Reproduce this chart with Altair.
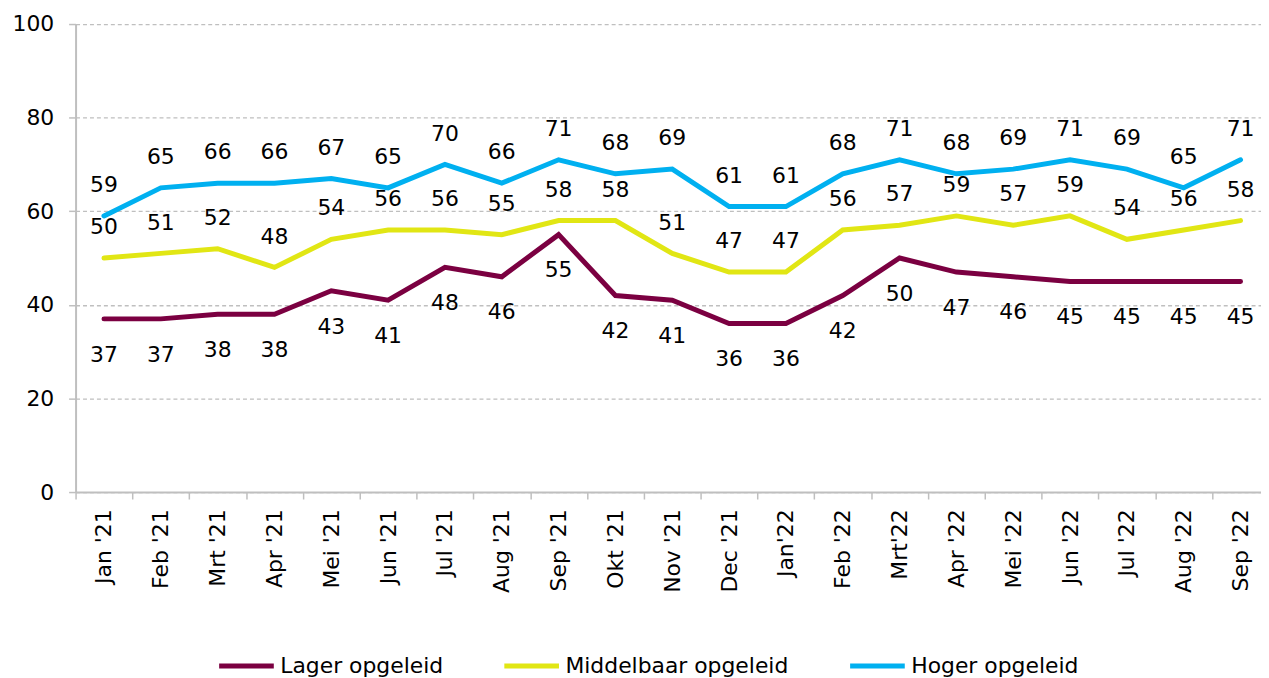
import altair as alt
import pandas as pd

months = ["Jan '21", "Feb '21", "Mrt '21", "Apr '21", "Mei '21", "Jun '21", "Jul '21",
          "Aug '21", "Sep '21", "Okt '21", "Nov '21", "Dec '21", "Jan'22", "Feb '22",
          "Mrt'22", "Apr '22", "Mei '22", "Jun '22", "Jul '22", "Aug '22", "Sep '22"]
lager = [37, 37, 38, 38, 43, 41, 48, 46, 55, 42, 41, 36, 36, 42, 50, 47, 46, 45, 45, 45, 45]
middelbaar = [50, 51, 52, 48, 54, 56, 56, 55, 58, 58, 51, 47, 47, 56, 57, 59, 57, 59, 54, 56, 58]
hoger = [59, 65, 66, 66, 67, 65, 70, 66, 71, 68, 69, 61, 61, 68, 71, 68, 69, 71, 69, 65, 71]

series_names = ["Lager opgeleid", "Middelbaar opgeleid", "Hoger opgeleid"]
series_colors = ["#7B0041", "#E1E614", "#00B0F0"]

rows = []
for name, vals in zip(series_names, [lager, middelbaar, hoger]):
    for m, v in zip(months, vals):
        rows.append({"month": m, "series": name, "value": v})
df = pd.DataFrame(rows)

FONT = "DejaVu Sans"
GRAY = "#BFBFBF"

x_enc = alt.X(
    "month:N", sort=months, bandPosition=0.5,
    scale=alt.Scale(type="band", range=[0, 1201], paddingInner=0, paddingOuter=0),
    axis=alt.Axis(title=None, labelAngle=-90, labelAlign="right", labelBaseline="middle",
                  tickBand="extent", tickSize=7, tickColor=GRAY, tickWidth=1.5,
                  domainColor=GRAY, domainWidth=2, labelFontSize=22, labelColor="black",
                  labelFont=FONT, labelPadding=10, grid=False),
)
y_enc = alt.Y(
    "value:Q", scale=alt.Scale(domain=[0, 100], nice=False),
    axis=alt.Axis(title=None, values=[0, 20, 40, 60, 80, 100], tickSize=7, tickColor=GRAY,
                  tickWidth=1.5, domainColor=GRAY, domainWidth=2, labelFontSize=22,
                  labelColor="black", labelFont=FONT, labelPadding=15,
                  grid=True, gridColor=GRAY, gridDash=[4, 3], gridWidth=1.3),
)
color_enc = alt.Color(
    "series:N", sort=series_names,
    scale=alt.Scale(domain=series_names, range=series_colors),
    legend=alt.Legend(title=None, orient="none", legendX=142, legendY=616,
                      direction="horizontal", symbolType="stroke", symbolSize=3025,
                      symbolStrokeWidth=5, labelFontSize=22, labelFont=FONT,
                      labelColor="black", labelOffset=4, columnPadding=51,
                      labelLimit=0),
)

base = alt.Chart(df)
lines = base.mark_line(strokeWidth=5, strokeCap="round", strokeJoin="miter").encode(
    x=x_enc, y=y_enc, color=color_enc
)
labels_up = base.transform_filter(alt.datum.series != "Lager opgeleid").mark_text(
    dy=-31, fontSize=22, font=FONT, color="black", baseline="middle"
).encode(x=x_enc, y=y_enc, text="value:Q")
labels_down = base.transform_filter(alt.datum.series == "Lager opgeleid").mark_text(
    dy=36, fontSize=22, font=FONT, color="black", baseline="middle"
).encode(x=x_enc, y=y_enc, text="value:Q")

chart = alt.layer(lines, labels_up, labels_down).properties(
    width=1193, height=471,
    autosize=alt.AutoSizeParams(type="none"),
    padding={"left": 68, "top": 14, "right": 0, "bottom": 185},
).configure_view(stroke=None)

chart.save("out.html", embed_options={"renderer": "svg", "actions": False})
